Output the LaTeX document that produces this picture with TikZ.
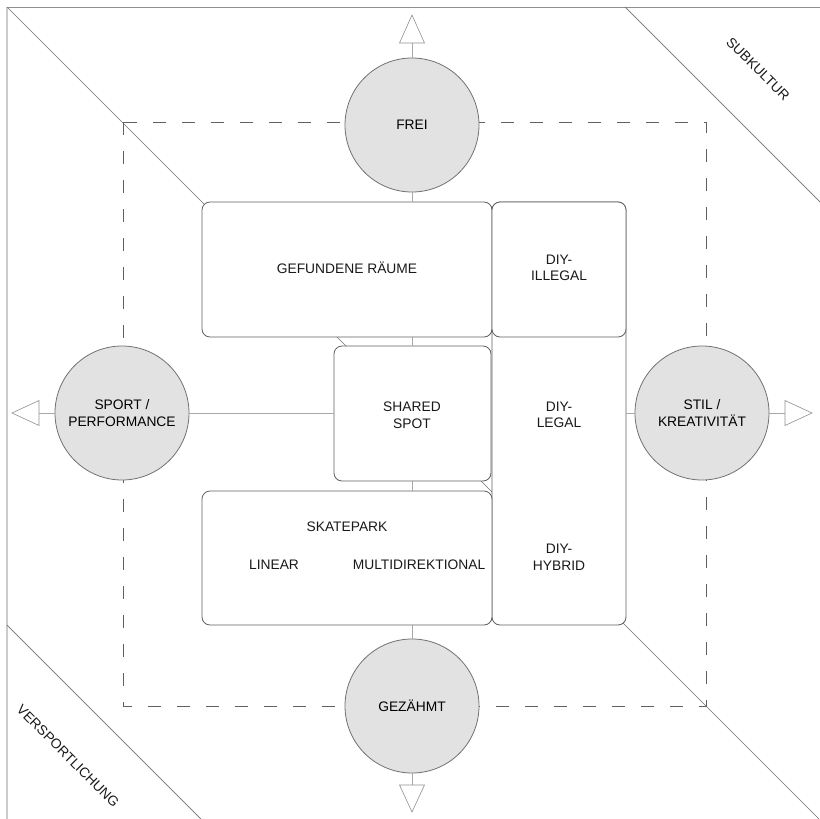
\documentclass[tikz,border=0pt]{standalone}
\usepackage{fontspec}
\setmainfont{Liberation Sans}
\definecolor{boxline}{HTML}{606060}
\definecolor{diagline}{HTML}{707070}
\definecolor{linkline}{HTML}{A8A8A8}
\definecolor{circfill}{HTML}{E2E2E2}
\definecolor{circline}{HTML}{707070}
\definecolor{frameline}{HTML}{909090}
\begin{document}
\begin{tikzpicture}[x=1pt,y=-1pt,
  lbl/.style={font=\fontsize{13.8}{16.5}\selectfont, align=center, inner sep=0pt, text=black!90},
  roombox/.style={draw=boxline, fill=white, rounded corners=8pt, line width=0.8pt, inner sep=0pt},
  pole/.style={circle, draw=circline, fill=circfill, line width=0.8pt, minimum size=134pt, inner sep=0pt,
    font=\fontsize{13.8}{16.5}\selectfont, align=center},
  link/.style={draw=linkline, line width=1pt},
  tri/.style={draw=frameline, fill=white, line width=0.6pt, line join=miter},
  diag/.style={draw=diagline, line width=0.7pt},
]
\useasboundingbox (0,0) rectangle (820,819);

% outer frame
\draw[frameline, line width=0.8pt] (7,7) -- (820,7);
\draw[black!20, line width=1.2pt] (7,7) -- (7,819);

% diagonals
\draw[diag] (7,7) -- (820,820);
\draw[diag] (625,7) -- (820,202);
\draw[diag] (7,625) -- (201,819);

% dashed field
\draw[boxline, line width=0.8pt, dash pattern=on 13pt off 16pt] (123,122) rectangle (706,706);

% poles
\node[pole] (frei) at (412,125) {FREI};
\node[pole] (sport) at (122,413) {SPORT /\\PERFORMANCE};
\node[pole] (stil) at (702,413) {STIL /\\KREATIVITÄT};
\node[pole] (gez) at (412,706) {GEZÄHMT};

% spaces
\node[roombox, minimum width=134pt, minimum height=423pt] (diy) at (559,413.5) {};
\node[roombox, minimum width=290pt, minimum height=135pt] (gef) at (347,269.5) {};
\node[roombox, minimum width=134pt, minimum height=135pt] (illegal) at (559,269.5) {};
\node[roombox, minimum width=157pt, minimum height=135pt] (shared) at (412.5,413.5) {};
\node[roombox, minimum width=290pt, minimum height=134pt] (skate) at (347,558) {};

% links between poles and spaces
\draw[link] (frei.south) -- (frei.south |- gef.north);
\draw[link] (shared.north -| frei.south) -- (frei.south |- gef.south);
\draw[link] (shared.south -| frei.south) -- (frei.south |- skate.north);
\draw[link] (gez.north) -- (gez.north |- skate.south);
\draw[link] (sport.east) -- (sport.east -| shared.west);
\draw[link] (stil.west) -- (stil.west -| diy.east);

% labels
\node[lbl] (tgef) at (347,268) {GEFUNDENE RÄUME};
\node[lbl] (tillegal) at (559,268) {DIY-\\ILLEGAL};
\node[lbl] (tshared) at (412,415) {SHARED\\SPOT};
\node[lbl] (tlegal) at (559,415) {DIY-\\LEGAL};
\node[lbl] (tskate) at (347,527) {SKATEPARK};
\node[lbl] (tlinear) at (274,565) {LINEAR};
\node[lbl] (tmulti) at (419,565) {MULTIDIREKTIONAL};
\node[lbl] (thybrid) at (559,557) {DIY-\\HYBRID};

% arrow heads on the axes
\coordinate (upbase) at (412,43);
\coordinate (downbase) at (412,785);
\coordinate (leftbase) at (39,413);
\coordinate (rightbase) at (785,413);
\draw[link] (frei.north) -- (upbase);
\draw[link] (gez.south) -- (downbase);
\draw[link] (sport.west) -- (leftbase);
\draw[link] (stil.east) -- (rightbase);
\draw[tri] (399.5,43) -- (412,15) -- (424.5,43) -- cycle;
\draw[tri] (399.5,785) -- (412,812) -- (424.5,785) -- cycle;
\draw[tri] (39,400.5) -- (12,413) -- (39,425.5) -- cycle;
\draw[tri] (785,400.5) -- (812,413) -- (785,425.5) -- cycle;

% corner labels
\node[lbl, rotate=-45] (sub) at (758,69) {SUBKULTUR};
\node[lbl, rotate=-45] (vers) at (68,756) {VERSPORTLICHUNG};
\end{tikzpicture}
\end{document}
